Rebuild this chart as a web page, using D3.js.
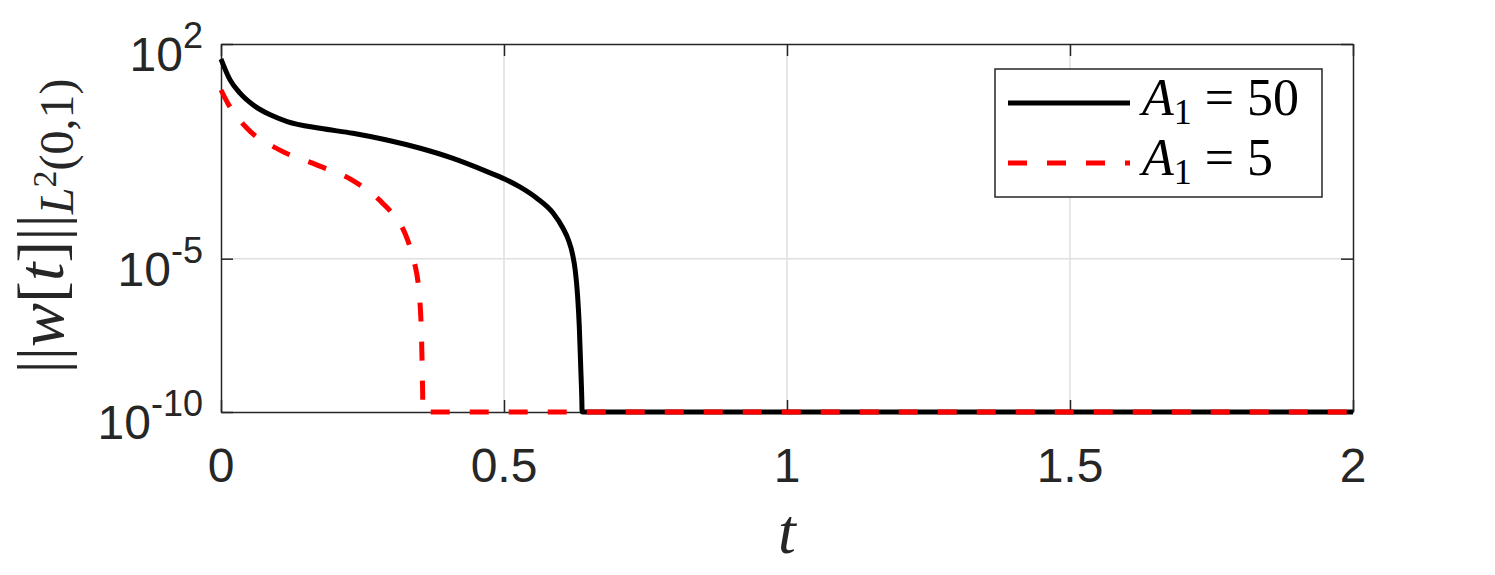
<!DOCTYPE html>
<html lang="en">
<head>
  <meta charset="utf-8">
  <title>Norm decay</title>
  <style>
    body { margin: 0; background: #fff; }
    svg { display: block; }
  </style>
</head>
<body>
  <script src="https://cdnjs.cloudflare.com/ajax/libs/d3/7.8.5/d3.min.js"></script>
  <div id="chart"></div>
  <script type="text/javascript">
// data (t, and log10 of the norm)
const tA50 = [0, 0.016, 0.034, 0.057, 0.087, 0.117, 0.175, 0.233, 0.293, 0.352, 0.41, 0.47, 0.502, 0.528, 0.558, 0.587, 0.604, 0.614, 0.621, 0.626, 0.630, 0.633, 0.6355, 0.6375, 0.638, 2];
const logA50 = [1.51, 0.83, 0.39, 0.01, -0.31, -0.53, -0.75, -0.91, -1.13, -1.40, -1.73, -2.16, -2.41, -2.66, -3.03, -3.52, -4.0, -4.4, -4.85, -5.4, -6.2, -7.2, -8.5, -9.6, -10, -10];

const tA5 = [0, 0.012, 0.046, 0.104, 0.170, 0.231, 0.286, 0.310, 0.325, 0.334, 0.342, 0.348, 0.351, 0.353, 0.3545, 0.3555, 0.3563, 0.357, 2];
const logA5 = [0.50, 0.07, -0.75, -1.46, -1.95, -2.43, -3.2, -3.7, -4.17, -4.62, -5.15, -5.75, -6.3, -6.9, -7.7, -8.6, -9.4, -10, -10];

const seriesNames = ['50', '5'];
const xTicks = [0, 0.5, 1, 1.5, 2];
const xTickLabels = ['0', '0.5', '1', '1.5', '2'];
const yTicks = [1e2, 1e-5, 1e-10];
const yTickExp = ['2', '-5', '-10'];

const width = 1495, height = 575;
const mLeft = 221, mRight = 1353, mTop = 44, mBottom = 412;
const axisColor = '#262626';

const svg = d3.select('#chart').append('svg')
  .attr('width', width)
  .attr('height', height);

const x = d3.scaleLinear().domain([0, 2]).range([mLeft, mRight]);
const y = d3.scaleLog().domain([1e-10, 1e2]).range([mBottom, mTop]);

// grid
svg.append('g').selectAll('line')
  .data(xTicks.slice(1, -1))
  .enter().append('line')
  .attr('x1', d => x(d)).attr('x2', d => x(d))
  .attr('y1', mTop).attr('y2', mBottom)
  .attr('stroke', '#dfdfdf').attr('stroke-width', 1.5);

svg.append('g').selectAll('line')
  .data(yTicks.slice(1, -1))
  .enter().append('line')
  .attr('x1', mLeft).attr('x2', mRight)
  .attr('y1', d => y(d)).attr('y2', d => y(d))
  .attr('stroke', '#dfdfdf').attr('stroke-width', 1.5);

// axes, ticks inward on all four sides
const xAxisB = d3.axisBottom(x).tickValues(xTicks).tickSize(-12).tickSizeOuter(0).tickFormat('');
const xAxisT = d3.axisTop(x).tickValues(xTicks).tickSize(-12).tickSizeOuter(0).tickFormat('');
const yAxisL = d3.axisLeft(y).tickValues(yTicks).tickSize(-12).tickSizeOuter(0).tickFormat('');
const yAxisR = d3.axisRight(y).tickValues(yTicks).tickSize(-12).tickSizeOuter(0).tickFormat('');

[[xAxisB, `translate(0,${mBottom})`], [xAxisT, `translate(0,${mTop})`],
 [yAxisL, `translate(${mLeft},0)`], [yAxisR, `translate(${mRight},0)`]].forEach(([ax, tr]) => {
  const g = svg.append('g').attr('transform', tr).call(ax);
  g.select('.domain').attr('stroke', axisColor).attr('stroke-width', 1.5);
  g.selectAll('.tick line').attr('stroke', axisColor).attr('stroke-width', 1.5);
});

// x tick labels
svg.append('g').selectAll('text')
  .data(xTicks)
  .enter().append('text')
  .attr('x', d => x(d))
  .attr('y', 482)
  .attr('text-anchor', 'middle')
  .style('font-family', '"Liberation Sans", Arial, sans-serif')
  .style('font-size', '48px')
  .style('fill', axisColor)
  .text((d, i) => xTickLabels[i]);

// y tick labels as 10^n
const yLab = svg.append('g').selectAll('text')
  .data(yTicks)
  .enter().append('text')
  .attr('x', 203)
  .attr('y', d => y(d) + 27)
  .attr('text-anchor', 'end')
  .style('font-family', '"Liberation Sans", Arial, sans-serif')
  .style('font-size', '48px')
  .style('fill', axisColor);
yLab.append('tspan').text('10');
yLab.append('tspan')
  .attr('dy', -23)
  .style('font-size', '36px')
  .text((d, i) => yTickExp[i]);

// axis labels
svg.append('text')
  .attr('x', 787)
  .attr('y', 553)
  .attr('text-anchor', 'middle')
  .style('font-family', '"Liberation Serif", "Times New Roman", serif')
  .style('font-style', 'italic')
  .style('font-size', '64px')
  .style('fill', axisColor)
  .text('t');

const yl = svg.append('text')
  .attr('transform', 'translate(63,226) rotate(-90)')
  .attr('text-anchor', 'middle')
  .style('font-family', '"Liberation Serif", "Times New Roman", serif')
  .style('font-size', '66px')
  .style('fill', axisColor);
yl.append('tspan').text('||');
yl.append('tspan').style('font-style', 'italic').text('w');
yl.append('tspan').text('[');
yl.append('tspan').style('font-style', 'italic').text('t');
yl.append('tspan').text(']||');
yl.append('tspan').attr('dy', 10).style('font-size', '48px').style('font-style', 'italic').text('L');
yl.append('tspan').attr('dy', -17).style('font-size', '34px').text('2');
yl.append('tspan').attr('dy', 17).style('font-size', '48px').text('(0,1)');

// lines
const line = d3.line()
  .x(d => x(d[0]))
  .y(d => y(Math.pow(10, d[1])))
  .curve(d3.curveMonotoneX);

const dataA50 = tA50.map((t, i) => [t, logA50[i]]);
const dataA5 = tA5.map((t, i) => [t, logA5[i]]);

svg.append('path')
  .datum(dataA50)
  .attr('d', line)
  .attr('fill', 'none')
  .attr('stroke', '#000')
  .attr('stroke-width', 5);

svg.append('path')
  .datum(dataA5)
  .attr('d', line)
  .attr('fill', 'none')
  .attr('stroke', '#ff0000')
  .attr('stroke-width', 5)
  .attr('stroke-dasharray', '19,20');

// legend
const leg = svg.append('g');
leg.append('rect')
  .attr('x', 995).attr('y', 69)
  .attr('width', 327).attr('height', 128)
  .attr('fill', '#fff')
  .attr('stroke', axisColor)
  .attr('stroke-width', 1.5);

const legStyles = [
  { stroke: '#000', dash: null, y: 103 },
  { stroke: '#ff0000', dash: '19,20', y: 163 }
];
legStyles.forEach((s, i) => {
  leg.append('line')
    .attr('x1', 1008).attr('x2', 1130)
    .attr('y1', s.y).attr('y2', s.y)
    .attr('stroke', s.stroke)
    .attr('stroke-width', 5)
    .attr('stroke-dasharray', s.dash);
  const t = leg.append('text')
    .attr('x', 1142)
    .attr('y', s.y + 12)
    .style('font-family', '"Liberation Serif", "Times New Roman", serif')
    .style('font-size', '52px')
    .style('fill', '#000');
  t.append('tspan').style('font-style', 'italic').text('A');
  t.append('tspan').attr('dy', 9).style('font-size', '36px').text('1');
  t.append('tspan').attr('dy', -9).text(' = ' + seriesNames[i]);
});
  </script>
</body>
</html>
